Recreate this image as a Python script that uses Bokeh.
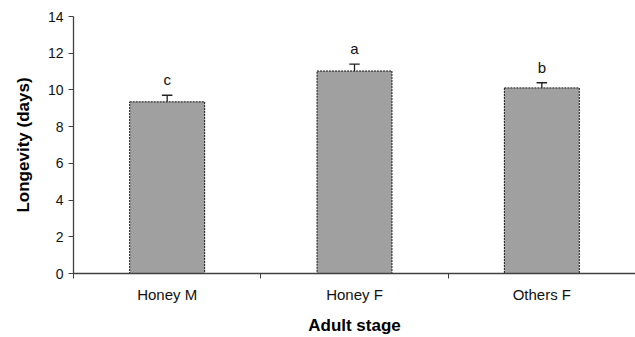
from bokeh.plotting import figure
from bokeh.models import Range1d, FixedTicker, ColumnDataSource
from bokeh.core.properties import value
from bokeh.embed import file_html
from bokeh.resources import INLINE

categories = ["Honey M", "Honey F", "Others F"]
means = [9.35, 11.03, 10.11]
errors = [0.36, 0.38, 0.28]
letters = ["c", "a", "b"]
y_ticks = [0, 2, 4, 6, 8, 10, 12, 14]

xs = [i + 0.5 for i in range(len(categories))]
src = ColumnDataSource(dict(
    x=xs,
    top=means,
    up=[m + e for m, e in zip(means, errors)],
    cl=[x - 0.028 for x in xs],
    cr=[x + 0.028 for x in xs],
    lab=letters,
))

FONT = "Liberation Sans"

p = figure(width=635, height=337, output_backend="svg", toolbar_location=None,
           x_range=Range1d(0, len(categories)), y_range=Range1d(0, 14),
           min_border_left=73, min_border_right=0, min_border_top=16,
           min_border_bottom=62)
p.outline_line_color = None
p.xgrid.visible = False
p.ygrid.visible = False

p.vbar(x="x", top="top", bottom=0, width=0.4, source=src,
       fill_color="#a0a0a0", line_color="#111111", line_width=1, line_dash="2 1")
p.segment(x0="x", y0="top", x1="x", y1="up", source=src, line_color="#222222", line_width=1.3)
p.segment(x0="cl", y0="up", x1="cr", y1="up", source=src, line_color="#222222", line_width=1.3)
p.text(x="x", y="up", text="lab", source=src, text_align="center", text_baseline="bottom",
       y_offset=-7, text_font=value(FONT), text_font_size="15px", text_color="#111111")

xa = p.xaxis[0]
xa.ticker = FixedTicker(ticks=xs, minor_ticks=list(range(len(categories) + 1)))
xa.major_label_overrides = {x: c for x, c in zip(xs, categories)}
xa.major_tick_out = 0
xa.major_tick_in = 0
xa.minor_tick_out = 5
xa.minor_tick_in = 0
xa.axis_label = "Adult stage"
xa.major_label_standoff = 7
xa.axis_label_standoff = 10

ya = p.yaxis[0]
ya.ticker = FixedTicker(ticks=y_ticks)
ya.major_tick_out = 5
ya.major_tick_in = 0
ya.axis_label = "Longevity (days)"
ya.major_label_standoff = 5
ya.axis_label_standoff = 12

for ax in (xa, ya):
    ax.axis_line_color = "#404040"
    ax.major_tick_line_color = "#404040"
    ax.minor_tick_line_color = "#404040" if ax is xa else None
    ax.axis_line_width = 1.3
    ax.major_label_text_font = FONT
    ax.major_label_text_color = "#111111"
    ax.axis_label_text_font = FONT
    ax.axis_label_text_font_size = "17px"
    ax.axis_label_text_font_style = "bold"
    ax.axis_label_text_color = "#000000"
xa.major_label_text_font_size = "15px"
ya.major_label_text_font_size = "14px"

open("out.html", "w").write(file_html(p, INLINE))
